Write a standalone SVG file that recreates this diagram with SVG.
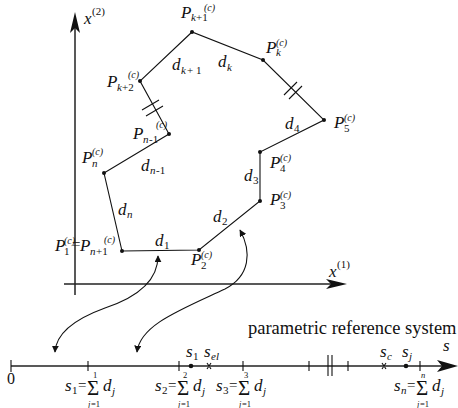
<svg xmlns="http://www.w3.org/2000/svg" width="458" height="408" viewBox="0 0 458 408" font-family="'Liberation Serif', 'Times New Roman', serif">
<defs>
<style>
.ax{stroke:#222;stroke-width:1.5;fill:none}
.ln{stroke:#111;stroke-width:1.1;fill:none}
.cv{stroke:#111;stroke-width:1.1;fill:none}
.dot{fill:#111}
text{font-family:"Liberation Serif","Times New Roman",serif;fill:#111}
.v{font-style:italic;font-size:17px}
.sb{font-style:italic;font-size:11px}
.sp{font-style:italic;font-size:10px}
.n{font-size:11px}
.big{font-size:18.5px}
.eq{font-size:15px}
.sg{font-size:21px}
.lim{font-size:8.5px}
</style>
<marker id="ah" viewBox="0 0 10 10" refX="9" refY="5" markerWidth="7" markerHeight="7" orient="auto-start-reverse" markerUnits="userSpaceOnUse">
<path d="M0,0 L10,5 L0,10 z" fill="#111"/>
</marker>
</defs>
<g id="connectors">
<path class="ax" d="M75,295 V28"/>
<path d="M75,12 L80,33 L75,28 L70,33 z" fill="#111"/>
<path class="ax" d="M64,284 H332"/>
<path d="M347,284 L326,279 L331,284 L326,289 z" fill="#111"/>
<path class="ax" d="M11,366 H442"/>
<path d="M458,366 L437,360 L442,366 L437,372 z" fill="#111"/>
<path class="ln" d="M122,251 L199,250 L260,201 L260,152 L324,120 L263,60 L192,32 L140,81 L169,134 L104,173 Z"/>
<path class="ln" d="M142,110 L159,100 M146,116 L163,106" stroke-width="1.3"/>
<path class="ln" d="M284,95 L297,82 M289,99 L302,86" stroke-width="1.3"/>
<path class="cv" d="M158,256 C158,282 135,298 105,308 C72,320 56,334 55,352" marker-start="url(#ah)" marker-end="url(#ah)"/>
<path class="cv" d="M240,230 C252,252 250,276 225,289 C180,310 140,325 137,352" marker-start="url(#ah)" marker-end="url(#ah)"/>
<path class="ln" d="M11,360 V372 M88,361 V371 M179,361 V371 M243,361 V371 M309,361 V371 M348,361 V371 M420,361 V371"/>
<path class="ln" d="M328,355 V376 M332,355 V376" stroke-width="1.3"/>
<path class="ln" d="M207,363 L211,369 M211,363 L207,369 M382,363 L386,369 M386,363 L382,369"/>
</g>
<g id="points">
<circle class="dot" cx="122" cy="251" r="2"/>
<circle class="dot" cx="199" cy="250" r="2"/>
<circle class="dot" cx="260" cy="201" r="2"/>
<circle class="dot" cx="260" cy="152" r="2"/>
<circle class="dot" cx="324" cy="120" r="2"/>
<circle class="dot" cx="263" cy="60" r="2"/>
<circle class="dot" cx="192" cy="32" r="2"/>
<circle class="dot" cx="140" cy="81" r="2"/>
<circle class="dot" cx="169" cy="134" r="2"/>
<circle class="dot" cx="104" cy="173" r="2"/>
<circle class="dot" cx="191" cy="366" r="2.3"/>
<circle class="dot" cx="406" cy="366" r="2.3"/>
</g>
<g id="labels">
<text class="v" x="84" y="24">x</text><text class="n" x="92" y="15">(2)</text>
<text class="v" x="329" y="277">x</text><text class="n" x="337" y="268">(1)</text>
<text class="v" x="181" y="18">P</text><text class="sb" x="191" y="21">k</text><text class="n" x="196" y="21">+1</text><text class="sp" x="204" y="11">(c)</text>
<text class="v" x="172" y="70">d</text><text class="sb" x="181" y="74">k</text><text class="n" x="187" y="74">+ 1</text>
<text class="v" x="218" y="67">d</text><text class="sb" x="227" y="71">k</text>
<text class="v" x="266" y="53">P</text><text class="sb" x="276" y="56">k</text><text class="sp" x="276" y="46">(c)</text>
<text class="v" x="107" y="87">P</text><text class="sb" x="117" y="91">k</text><text class="n" x="122" y="91">+2</text><text class="sp" x="128" y="78">(c)</text>
<text class="v" x="133" y="139">P</text><text class="sb" x="143" y="143">n</text><text class="n" x="149" y="143">-1</text><text class="sp" x="156" y="128">(c)</text>
<text class="v" x="334" y="128">P</text><text class="n" x="344" y="132">5</text><text class="sp" x="344" y="121">(c)</text>
<text class="v" x="285" y="129">d</text><text class="n" x="294" y="132">4</text>
<text class="v" x="82" y="163">P</text><text class="sb" x="92" y="167">n</text><text class="sp" x="92" y="155">(c)</text>
<text class="v" x="141" y="171">d</text><text class="sb" x="150" y="174">n</text><text class="n" x="156" y="174">-1</text>
<text class="v" x="244" y="181">d</text><text class="n" x="253" y="184">3</text>
<text class="v" x="270" y="168">P</text><text class="n" x="280" y="172">4</text><text class="sp" x="280" y="161">(c)</text>
<text class="v" x="270" y="205">P</text><text class="n" x="280" y="209">3</text><text class="sp" x="280" y="198">(c)</text>
<text class="v" x="118" y="215">d</text><text class="sb" x="127" y="218">n</text>
<text class="v" x="213" y="222">d</text><text class="n" x="222" y="225">2</text>
<text class="v" x="55" y="251">P</text><text class="n" x="64" y="255">1</text><text class="sp" x="64" y="244">(c)</text><text class="eq" x="72" y="249">=</text><text class="v" x="80" y="251">P</text><text class="sb" x="90" y="255">n</text><text class="n" x="96" y="255">+1</text><text class="sp" x="104" y="243">(c)</text>
<text class="v" x="155" y="246">d</text><text class="n" x="164" y="249">1</text>
<text class="v" x="191" y="265">P</text><text class="n" x="201" y="269">2</text><text class="sp" x="201" y="258">(c)</text>
<text class="big" x="248" y="334">parametric reference system</text>
<text class="v" x="443" y="351">s</text>
<text class="v" x="186" y="357">s</text><text class="n" x="193" y="360">1</text>
<text class="v" x="204" y="357">s</text><text class="sb" x="211" y="360">el</text>
<text class="v" x="380" y="357">s</text><text class="sb" x="387" y="360">c</text>
<text class="v" x="402" y="357">s</text><text class="sb" x="409" y="360">j</text>
<text style="font-size:16px" x="7" y="384">0</text>
</g>
<g id="sums">
<g transform="translate(65,0)">
<text class="v" x="0" y="391">s</text><text class="n" x="7" y="394">1</text><text class="eq" x="13" y="390">=</text>
<text class="sg" x="22" y="395">Σ</text><text class="lim" x="28" y="378">1</text><text class="lim" x="23" y="407" font-style="italic">j</text><text class="lim" x="26" y="407">=1</text>
<text class="v" x="38" y="391">d</text><text class="sb" x="47" y="395">j</text>
</g>
<g transform="translate(155,0)">
<text class="v" x="0" y="391">s</text><text class="n" x="7" y="394">2</text><text class="eq" x="13" y="390">=</text>
<text class="sg" x="22" y="395">Σ</text><text class="lim" x="28" y="378">2</text><text class="lim" x="23" y="407" font-style="italic">j</text><text class="lim" x="26" y="407">=1</text>
<text class="v" x="38" y="391">d</text><text class="sb" x="47" y="395">j</text>
</g>
<g transform="translate(216,0)">
<text class="v" x="0" y="391">s</text><text class="n" x="7" y="394">3</text><text class="eq" x="13" y="390">=</text>
<text class="sg" x="22" y="395">Σ</text><text class="lim" x="28" y="378">3</text><text class="lim" x="23" y="407" font-style="italic">j</text><text class="lim" x="26" y="407">=1</text>
<text class="v" x="38" y="391">d</text><text class="sb" x="47" y="395">j</text>
</g>
<g transform="translate(394,0)">
<text class="v" x="0" y="391">s</text><text class="sb" x="7" y="394">n</text><text class="eq" x="13" y="390">=</text>
<text class="sg" x="22" y="395">Σ</text><text class="lim" x="27" y="378" font-style="italic">n</text><text class="lim" x="23" y="407" font-style="italic">j</text><text class="lim" x="26" y="407">=1</text>
<text class="v" x="38" y="391">d</text><text class="sb" x="47" y="395">j</text>
</g>
</g>
</svg>
